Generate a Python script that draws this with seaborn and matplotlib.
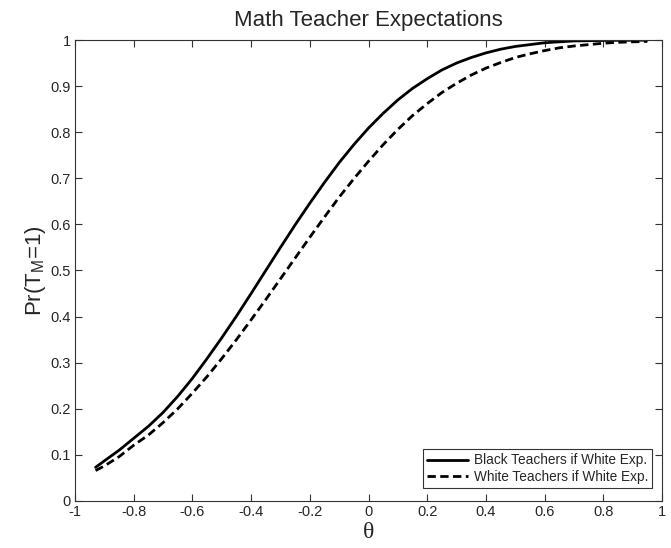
import matplotlib
matplotlib.use("Agg")
import matplotlib.pyplot as plt
import seaborn as sns
import pandas as pd

theta = [-0.93, -0.9, -0.85, -0.8, -0.75, -0.7, -0.65, -0.6, -0.55, -0.5, -0.45,
         -0.4, -0.35, -0.3, -0.25, -0.2, -0.15, -0.1, -0.05, 0.0, 0.05,
         0.1, 0.15, 0.2, 0.25, 0.3, 0.35, 0.4, 0.45, 0.5, 0.55,
         0.6, 0.65, 0.7, 0.75, 0.8, 0.85, 0.9, 0.95]
black_teachers = [0.073, 0.087, 0.110, 0.136, 0.162, 0.192, 0.227, 0.266, 0.309, 0.354, 0.401,
                  0.450, 0.500, 0.550, 0.599, 0.646, 0.691, 0.734, 0.773, 0.809, 0.841,
                  0.870, 0.895, 0.916, 0.935, 0.950, 0.962, 0.972, 0.980, 0.986, 0.990,
                  0.994, 0.996, 0.998, 0.9985, 0.999, 0.9993, 0.9995, 0.9997]
white_teachers = [0.066, 0.076, 0.096, 0.121, 0.143, 0.170, 0.200, 0.234, 0.270, 0.309, 0.350,
                  0.393, 0.437, 0.482, 0.527, 0.572, 0.616, 0.659, 0.699, 0.737, 0.773,
                  0.806, 0.836, 0.862, 0.886, 0.906, 0.924, 0.939, 0.951, 0.962, 0.970,
                  0.977, 0.983, 0.987, 0.990, 0.993, 0.995, 0.996, 0.997]
labels = ["Black Teachers if White Exp.", "White Teachers if White Exp."]

df = pd.DataFrame({
    "theta": theta * 2,
    "p": black_teachers + white_teachers,
    "series": [labels[0]] * len(theta) + [labels[1]] * len(theta),
})

sns.set_style("white")
plt.rcParams['font.family'] = ['Liberation Sans', 'DejaVu Sans']

fig = plt.figure(figsize=(6.71, 5.48), dpi=100)
ax = fig.add_axes([0.1118, 0.0858, 0.8748, 0.8412])

sns.lineplot(data=df, x="theta", y="p", hue="series", style="series",
             palette=["black", "black"], dashes=[(None, None), (3, 1.6)],
             linewidth=2.0, ax=ax, legend=True)

ax.set_xlim(-1, 1)
ax.set_ylim(0, 1)
ax.set_xticks([-1, -0.8, -0.6, -0.4, -0.2, 0, 0.2, 0.4, 0.6, 0.8, 1])
ax.set_xticklabels(["-1", "-0.8", "-0.6", "-0.4", "-0.2", "0", "0.2", "0.4", "0.6", "0.8", "1"])
ax.set_yticks([i / 10 for i in range(11)])
ax.set_yticklabels(["0", "0.1", "0.2", "0.3", "0.4", "0.5", "0.6", "0.7", "0.8", "0.9", "1"])
ax.tick_params(direction="in", length=5, width=0.8, color="#333333", labelsize=10.5,
               top=True, right=True, bottom=True, left=True, pad=3)
for s in ax.spines.values():
    s.set_color("#333333")
    s.set_linewidth(0.8)

ax.set_title("Math Teacher Expectations", fontsize=16, pad=10)
ax.set_ylabel(r"Pr(T$_\mathregular{M}$=1)", fontsize=16, labelpad=2)
ax.set_xlabel("θ", fontsize=17, family=["Liberation Serif", "DejaVu Serif"], labelpad=2)

leg = ax.legend(loc="lower right", bbox_to_anchor=(0.983, 0.028), borderaxespad=0,
                fontsize=9.8, frameon=True, fancybox=False,
                edgecolor="black", handlelength=3.0,
                borderpad=0.3, labelspacing=0.2, handletextpad=0.4)
leg.get_frame().set_linewidth(0.8)
for h in leg.get_lines():
    h.set_linewidth(2.0)

fig.savefig("out.png", dpi=100)
